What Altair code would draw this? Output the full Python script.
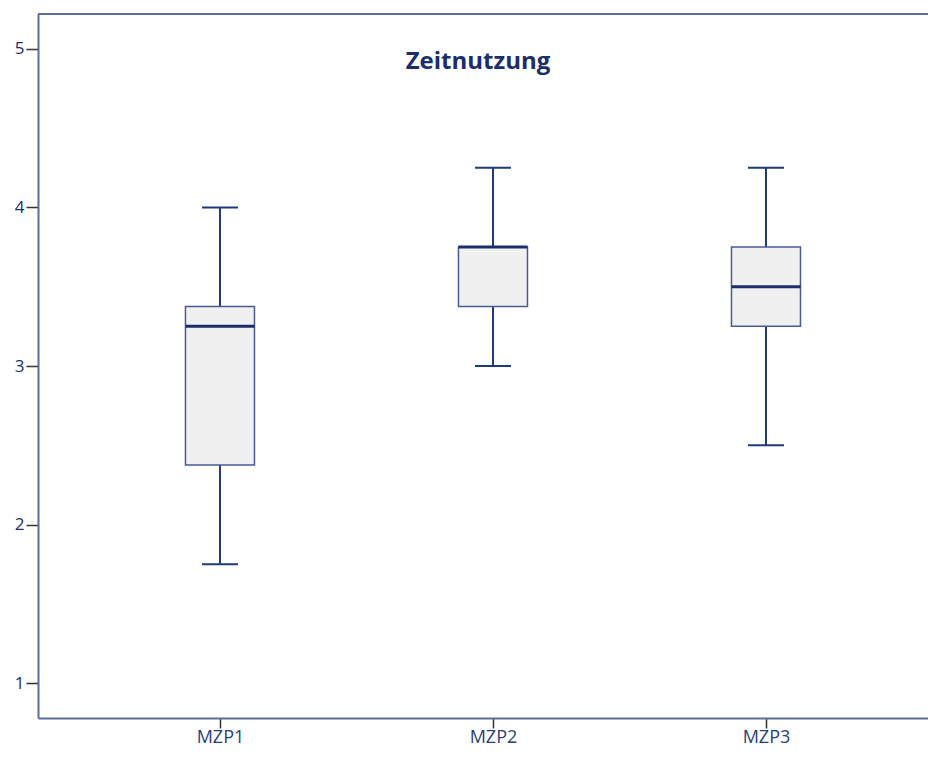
import altair as alt
import pandas as pd

# Data
categories = ["MZP1", "MZP2", "MZP3"]
lower_whisker = [1.75, 3.0, 2.5]
q1 = [2.375, 3.375, 3.25]
median = [3.25, 3.75, 3.5]
q3 = [3.375, 3.75, 3.75]
upper_whisker = [4.0, 4.25, 4.25]
y_ticks = [1, 2, 3, 4, 5]
chart_title = "Zeitnutzung"

df = pd.DataFrame({
    "cat": categories,
    "lo": lower_whisker,
    "q1": q1,
    "med": median,
    "q3": q3,
    "hi": upper_whisker,
})

W, H = 890, 704
NAVY = "#1b2d6b"
LINE = "#1f3a7a"
AXIS = "#5d6c9c"
FONT = "Open Sans"

x_enc = alt.X(
    "cat:N",
    sort=categories,
    scale=alt.Scale(type="point", padding=0.63, align=0.529),
    axis=alt.Axis(
        title=None, labelAngle=0, grid=False,
        domainColor=AXIS, domainWidth=2,
        tickColor="#333333", tickWidth=1.5, tickSize=10,
        labelColor="#2a3f7a", labelFont=FONT, labelFontSize=18, labelPadding=0,
    ),
)
y_scale = alt.Scale(domain=[0.78, 5.22], nice=False, zero=False)
y_axis = alt.Axis(
    values=y_ticks, title=None, grid=False,
    domainColor=AXIS, domainWidth=2,
    tickColor="#333333", tickWidth=1.5, tickSize=12,
    labelColor=NAVY, labelFont=FONT, labelFontSize=17, labelPadding=2,
)

base = alt.Chart(df)

whiskers = base.mark_rule(color=LINE, strokeWidth=2).encode(
    x=x_enc,
    y=alt.Y("lo:Q", scale=y_scale, axis=y_axis),
    y2="hi:Q",
)

boxes = base.mark_bar(size=69, fill="#f0f0f0", stroke="#4a5b92", strokeWidth=1.5, opacity=1).encode(
    x=x_enc,
    y=alt.Y("q1:Q", scale=y_scale, axis=y_axis),
    y2="q3:Q",
)

medians = base.mark_tick(size=69, thickness=3, color=NAVY, opacity=1).encode(
    x=x_enc,
    y=alt.Y("med:Q", scale=y_scale, axis=y_axis),
)

caps_lo = base.mark_tick(size=36, thickness=2, color=LINE, opacity=1).encode(
    x=x_enc,
    y=alt.Y("lo:Q", scale=y_scale, axis=y_axis),
)
caps_hi = base.mark_tick(size=36, thickness=2, color=LINE, opacity=1).encode(
    x=x_enc,
    y=alt.Y("hi:Q", scale=y_scale, axis=y_axis),
)

single = pd.DataFrame({"t": [chart_title]})
top_border = alt.Chart(single).mark_rule(color=AXIS, strokeWidth=2).encode(
    x=alt.value(0), x2=alt.value(W), y=alt.value(0)
)
title = alt.Chart(single).mark_text(
    font=FONT, fontWeight="bold", fontSize=24, color=NAVY
).encode(text="t:N", x=alt.value(440), y=alt.value(48))

chart = alt.layer(
    whiskers, boxes, medians, caps_lo, caps_hi, top_border, title
).properties(
    width=W, height=H,
    padding={"left": 30, "top": 6, "right": 0, "bottom": 31},
    autosize=alt.AutoSizeParams(type="none"),
).configure_view(stroke=None).configure(background="white")

chart.save("out.html", embed_options={"renderer": "svg", "actions": False})
